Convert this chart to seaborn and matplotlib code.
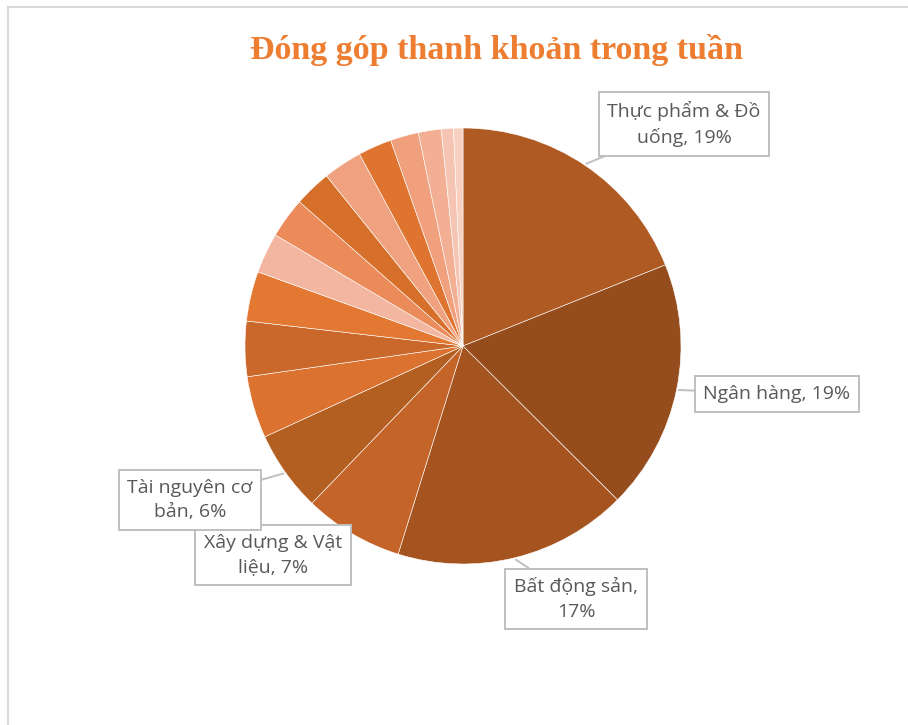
import numpy as np
import matplotlib
matplotlib.use("Agg")
import matplotlib.pyplot as plt
import seaborn as sns

# sector share of weekly liquidity (%), clockwise from 12 o'clock
sectors = [
    "Thực phẩm & Đồ uống", "Ngân hàng", "Bất động sản", "Xây dựng & Vật liệu",
    "Tài nguyên cơ bản", "Dịch vụ tài chính", "Hóa chất", "Bán lẻ",
    "Công nghệ thông tin", "Điện, nước & xăng dầu khí đốt",
    "Hàng & Dịch vụ công nghiệp", "Dầu khí", "Du lịch và Giải trí",
    "Bảo hiểm", "Ô tô và phụ tùng", "Hàng cá nhân & Gia dụng", "Y tế",
]
shares = [19.0, 18.6, 17.4, 7.4, 6.0, 4.6, 4.1, 3.7, 3.0, 3.0, 2.75, 2.9,
          2.5, 2.1, 1.7, 0.9, 0.7]
colors = ["#AE5A22", "#964D1D", "#A5541F", "#C46428", "#B45F22", "#DC722F",
          "#C9682A", "#E37832", "#F3B6A0", "#EC8B5A", "#D56F2A", "#EFA180",
          "#DE7430", "#F0A07D", "#F2AF94", "#F5C4B2", "#F8D0C2"]

# which slices carry a callout, and where the box sits (pixels, top-left origin)
callouts = {
    "Thực phẩm & Đồ uống": ("Thực phẩm & Đồ\nuống", 684, 124),
    "Ngân hàng": ("Ngân hàng", 777, 394),
    "Bất động sản": ("Bất động sản,\n", 576, 599),
    "Xây dựng & Vật liệu": ("Xây dựng & Vật\nliệu", 273, 555),
    "Tài nguyên cơ bản": ("Tài nguyên cơ\nbản", 190, 500),
}

sns.set_theme(style="white")
plt.rcParams["font.family"] = ["Open Sans", "DejaVu Sans"]

W, H = 908, 725
fig = plt.figure(figsize=(W / 100, H / 100), dpi=100)
cx, cy, r = 463, 346, 218
ax = fig.add_axes([(cx - r) / W, (H - cy - r) / H, 2 * r / W, 2 * r / H])

wedges, _ = ax.pie(shares, colors=colors, startangle=90, counterclock=False,
                   radius=1, wedgeprops=dict(edgecolor="white", linewidth=0.4))
ax.set_xlim(-1, 1)
ax.set_ylim(-1, 1)
ax.axis("off")

for name, w, val in zip(sectors, wedges, shares):
    if name not in callouts:
        continue
    text, tx, ty = callouts[name]
    pct = f"{round(val)}%"
    if text.endswith("\n"):
        label = text + pct
    else:
        label = text + ", " + pct
    mid = np.deg2rad((w.theta1 + w.theta2) / 2)
    ax.annotate(label, xy=(np.cos(mid) * 1.01, np.sin(mid) * 1.01),
                xycoords="data", xytext=(tx / W, 1 - ty / H),
                textcoords="figure fraction", ha="center", va="center",
                fontsize=14, color="#595959", linespacing=1.45,
                bbox=dict(boxstyle="square,pad=0.45", fc="white",
                          ec="#BFBFBF", lw=1.4),
                arrowprops=dict(arrowstyle="-", color="#BFBFBF", lw=1.4,
                                shrinkA=0, shrinkB=0),
                annotation_clip=False)

fig.text(497 / W, 1 - 50 / H, "Đóng góp thanh khoản trong tuần",
         ha="center", va="center", fontsize=24.5, fontweight="bold",
         color="#ED7D31", family=["Liberation Serif", "DejaVu Serif"])

# chart frame (only left and top edges fall inside the picture)
fig.patches.append(plt.Rectangle((8 / W, -0.1), 1.2, 1 - 7 / H + 0.1,
                                 transform=fig.transFigure, fill=False,
                                 ec="#D9D9D9", lw=1.5))

fig.savefig("out.png", dpi=100, facecolor="white")
